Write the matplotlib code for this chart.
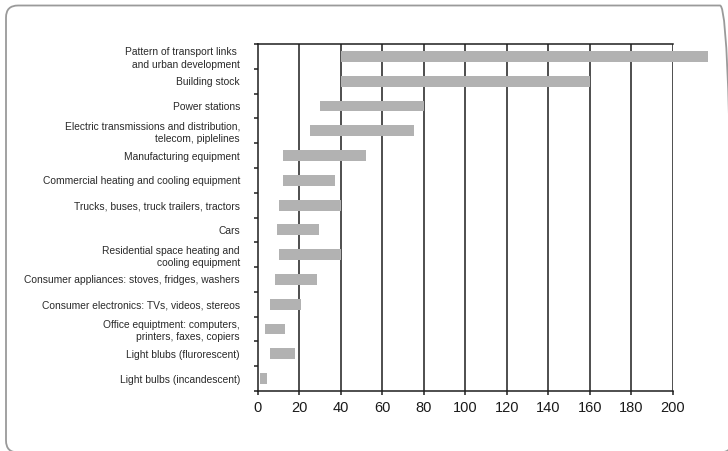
import matplotlib
matplotlib.use("Agg")
import matplotlib.pyplot as plt
from matplotlib.patches import FancyBboxPatch
from matplotlib.transforms import IdentityTransform
import numpy as np

categories = [
    "Pattern of transport links \nand urban development",
    "Building stock",
    "Power stations",
    "Electric transmissions and distribution,\ntelecom, piplelines",
    "Manufacturing equipment",
    "Commercial heating and cooling equipment",
    "Trucks, buses, truck trailers, tractors",
    "Cars",
    "Residential space heating and\ncooling equipment",
    "Consumer appliances: stoves, fridges, washers",
    "Consumer electronics: TVs, videos, stereos",
    "Office equiptment: computers,\nprinters, faxes, copiers",
    "Light blubs (flurorescent)",
    "Light bulbs (incandescent)",
]
life_min = [40, 40, 30, 25, 12, 12, 10, 9, 10, 8, 6, 3.5, 6, 1]
life_max = [217, 160, 80, 75, 52, 37, 40, 29.5, 40, 28.5, 20.5, 13, 18, 4.3]
xticks = [0, 20, 40, 60, 80, 100, 120, 140, 160, 180, 200]

W, H = 728, 451
fig = plt.figure(figsize=(W / 100, H / 100), dpi=100)
fig.patch.set_facecolor("white")

# rounded outer frame (pixel coordinates, partly cut by the image edges)
top_px, bottom_px, left_px, right_px = 5.5, 452.5, 6.0, 732.0
frame = FancyBboxPatch((left_px, H - bottom_px), right_px - left_px,
                       bottom_px - top_px,
                       boxstyle="round,pad=0,rounding_size=12",
                       transform=IdentityTransform(), fill=False,
                       edgecolor="#9a9a9a", linewidth=1.3, clip_on=False)
fig.patches.append(frame)

ax = fig.add_axes([258 / W, 1 - 391 / H, (672.7 - 258) / W, (391 - 44) / H])
n = len(categories)
y = np.arange(n)
widths = [b - a for a, b in zip(life_min, life_max)]
ax.barh(y, widths, left=life_min, height=0.44, color="#b2b2b2",
        zorder=3, clip_on=False)

ax.set_xlim(0, 200)
ax.set_ylim(n - 0.5, -0.5)
ax.set_xticks(xticks)
ax.set_xticklabels([str(v) for v in xticks])
for v in xticks[1:]:
    ax.axvline(v, color="#1e1e1e", lw=1.1, zorder=1)

ax.set_yticks(y)
ax.set_yticklabels(categories)
ax.set_yticks(np.arange(n + 1) - 0.5, minor=True)
ax.tick_params(axis="y", which="major", length=0, pad=13,
               labelsize=7.4, labelcolor="#2a2a2a")
ax.tick_params(axis="y", which="minor", length=3, width=1.1,
               color="#1e1e1e", direction="out")
ax.tick_params(axis="x", which="major", length=3, width=1.1,
               color="#1e1e1e", pad=4, labelsize=10.5, labelcolor="#1a1a1a")
for lab in ax.get_yticklabels():
    lab.set_fontfamily("Liberation Sans")
    lab.set_linespacing(1.3)
for lab in ax.get_xticklabels():
    lab.set_fontfamily("Liberation Sans")

for s in ["left", "bottom", "top"]:
    ax.spines[s].set_color("#1e1e1e")
    ax.spines[s].set_linewidth(1.1)
ax.spines["right"].set_visible(False)

fig.savefig("out.png", dpi=100, facecolor="white")
